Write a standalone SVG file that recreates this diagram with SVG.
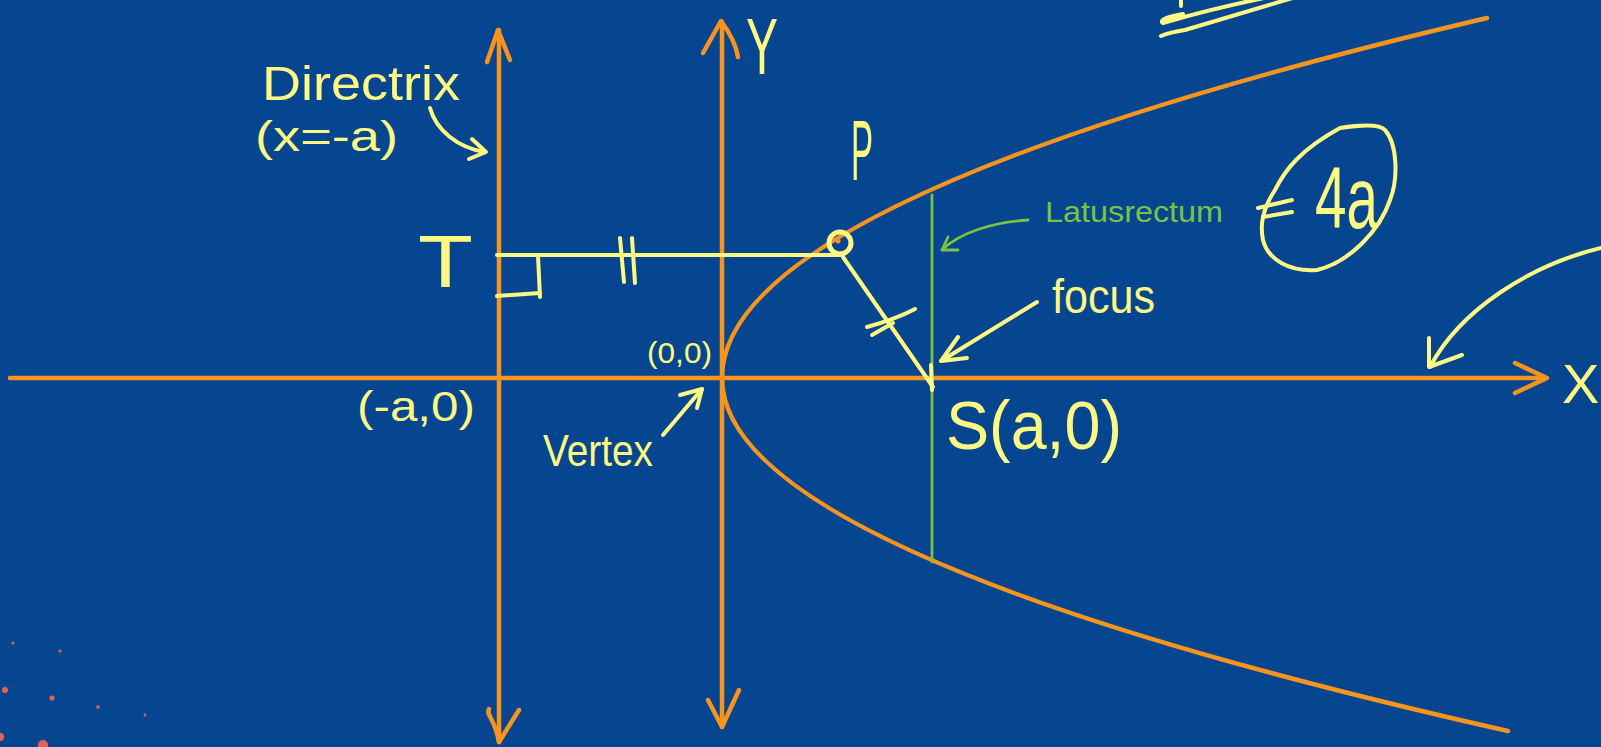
<svg xmlns="http://www.w3.org/2000/svg" width="1601" height="747" viewBox="0 0 1601 747">
<style>
.bg{fill:#064690}
.or{fill:none;stroke:#F7941D;stroke-width:4.5;stroke-linecap:round;stroke-linejoin:round}
.ye{fill:none;stroke:#FFF882;stroke-width:4;stroke-linecap:round;stroke-linejoin:round}
.gr{fill:none;stroke:#7CC242;stroke-width:2.8;stroke-linecap:round;stroke-linejoin:round}
.t{font-family:"Liberation Sans",Arial,sans-serif;fill:#FFF882}
.tg{font-family:"Liberation Sans",Arial,sans-serif;fill:#7CC242}
.dot{fill:#E8605A}
</style>
<rect class="bg" x="0" y="0" width="1601" height="747"/>
<g id="dots">
<circle class="dot" cx="13" cy="643" r="1.6"/>
<circle class="dot" cx="60" cy="651" r="1.6"/>
<circle class="dot" cx="5" cy="690" r="3"/>
<circle class="dot" cx="52" cy="698" r="2.6"/>
<circle class="dot" cx="98" cy="707" r="1.8"/>
<circle class="dot" cx="145" cy="715" r="1.5"/>
<circle class="dot" cx="0" cy="737" r="4"/>
<circle class="dot" cx="43" cy="745" r="5"/>
</g>
<g id="connectors">
<path class="or" d="M10,378 L1545,378"/>
<path class="or" d="M1515,363 L1547,378 L1515,393"/>
<path class="or" d="M722,22 L722,727"/>
<path class="or" d="M703,53 L721,21 C730,33 736,45 738,57"/>
<path class="or" d="M708,700 L722,727 L739,690"/>
<path class="or" d="M499,30 L499,742"/>
<path class="or" d="M487,62 L498,30 L510,60"/>
<path class="or" d="M489,709 C486,716 494,716 499,742 L519,710"/>
<path class="or" d="M1487,18 Q722,198 722,378 Q722,554 1508,731"/>
<path class="gr" d="M932,195 L932,562"/>
<path class="gr" d="M1028,220 C995,222 960,232 942,250"/>
<path class="gr" d="M948,237 L942,250 L958,250"/>
<path class="ye" d="M497,255 L843,255"/>
<path class="ye" d="M843,257 L933,387"/>
<path class="ye" d="M538,256 L540,297 M497,296 L540,293"/>
<path class="ye" d="M620,238 L624,282 M632,238 L635,283"/>
<path class="ye" d="M867,327 C885,322 900,317 915,309 M872,335 L893,323"/>
<path class="ye" d="M931,365 L932,390"/>
<path class="ye" d="M1037,302 L941,361"/>
<path class="ye" d="M958,337 L941,361 L967,358"/>
<path class="ye" d="M663,435 L702,389"/>
<path class="ye" d="M680,395 L702,389 L697,408"/>
<path class="ye" d="M430,108 C436,130 458,148 485,152"/>
<path class="ye" d="M472,139 L486,152 L469,159"/>
<path class="ye" d="M1601,248 C1530,265 1460,310 1430,367"/>
<path class="ye" d="M1429,338 L1429,367 L1462,355"/>
<path class="ye" d="M1183,14 C1170,16 1158,20 1163,23 C1200,12 1240,3 1264,-2" stroke-width="5"/>
<path class="ye" d="M1161,36 C1168,33 1178,31 1185,30 L1296,-3" stroke-width="5"/>
<path class="ye" d="M1181,0 L1181,6"/>
</g>
<g id="node-P">
<circle cx="840" cy="243" r="11" fill="none" stroke="#FFF882" stroke-width="5"/>
<circle cx="838" cy="241" r="2.5" fill="#F7941D"/>
<text class="t" x="851" y="180" font-size="86" textLength="22" lengthAdjust="spacingAndGlyphs">P</text>
</g>
<g id="node-T">
<text class="t" x="418" y="287" font-size="75" textLength="55" lengthAdjust="spacingAndGlyphs">T</text>
</g>
<g id="node-S">
<text class="t" x="946" y="449" font-size="68" textLength="176" lengthAdjust="spacingAndGlyphs">S(a,0)</text>
</g>
<g id="label-Y">
<text class="t" transform="translate(746,74) scale(1,1.3)" x="0" y="0" font-size="62" textLength="32" lengthAdjust="spacingAndGlyphs">Y</text>
</g>
<g id="label-X">
<text class="t" x="1562" y="403" font-size="56">X</text>
</g>
<g id="label-origin">
<text class="t" x="647" y="363" font-size="30" textLength="65" lengthAdjust="spacingAndGlyphs">(0,0)</text>
</g>
<g id="label-minus-a">
<text class="t" x="357" y="421" font-size="42" textLength="118" lengthAdjust="spacingAndGlyphs">(-a,0)</text>
</g>
<g id="label-vertex">
<text class="t" x="543" y="466" font-size="44" textLength="110" lengthAdjust="spacingAndGlyphs">Vertex</text>
</g>
<g id="label-directrix">
<text class="t" x="262" y="100" font-size="48" textLength="198" lengthAdjust="spacingAndGlyphs">Directrix</text>
<text class="t" x="255" y="151" font-size="42" textLength="143" lengthAdjust="spacingAndGlyphs">(x=-a)</text>
</g>
<g id="label-latusrectum">
<text class="tg" x="1045" y="222" font-size="30" textLength="178" lengthAdjust="spacingAndGlyphs">Latusrectum</text>
</g>
<g id="label-focus">
<text class="t" x="1052" y="313" font-size="48" textLength="103" lengthAdjust="spacingAndGlyphs">focus</text>
</g>
<g id="label-4a">
<path class="ye" d="M1340,128 C1360,125 1380,124 1385,130 C1398,145 1398,180 1390,200 C1380,230 1350,262 1317,270 C1290,272 1268,260 1263,240 C1260,225 1262,210 1275,190 C1285,170 1300,150 1340,128 Z"/>
<path class="ye" d="M1258,208 L1292,200 M1263,217 L1292,212"/>
<text class="t" x="1315" y="228" font-size="88" textLength="63" lengthAdjust="spacingAndGlyphs">4a</text>
</g>
</svg>
